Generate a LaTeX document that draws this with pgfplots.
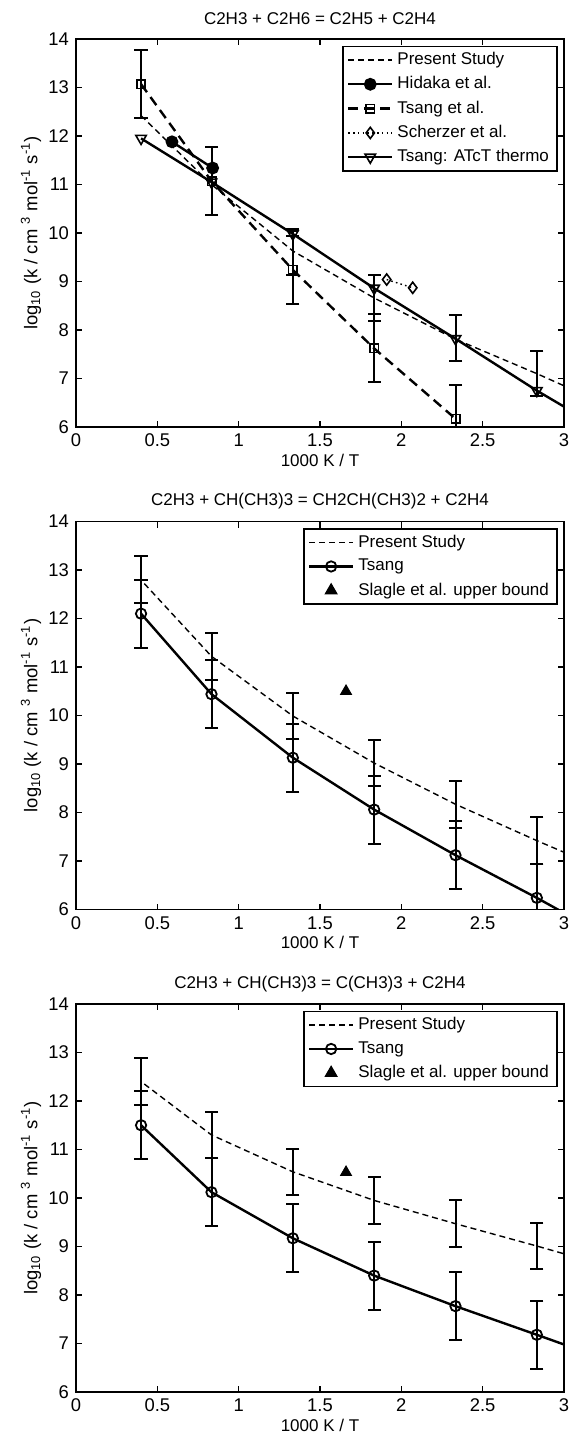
\documentclass[border=0pt]{standalone}
\usepackage{fontspec}
\setmainfont{Liberation Sans}
\usepackage{pgfplots}
\pgfplotsset{compat=1.18}
\usepackage{pgfplotstable}

% ---- Panel 1 data ----
\pgfplotstableread{
x y
0.40 12.42
0.833 11.00
1.333 9.63
1.833 8.66
2.333 7.81
2.833 7.10
3.00 6.85
}\ApS
\pgfplotstableread{
x y
0.59 11.88
0.84 11.34
}\AHid
\pgfplotstableread{
x y e
0.40 13.07 0.70
0.833 11.07 0.70
1.333 9.24 0.70
1.833 7.62 0.70
2.333 6.17 0.70
}\ATs
\pgfplotstableread{
x y
1.91 9.04
2.07 8.87
}\ASch
\pgfplotstableread{
x y
0.40 11.95
0.833 11.05
1.333 9.98
1.833 8.86
2.333 7.82
2.833 6.75
}\AAT
\pgfplotstableread{
x y
2.833 6.75
3.00 6.42
}\AATend
\pgfplotstableread{
x y e
1.333 9.61 0.47
1.833 8.66 0.47
2.333 7.84 0.47
2.833 7.10 0.47
}\ApsErr
% ---- Panel 2 data ----
\pgfplotstableread{
x y
0.42 12.72
0.833 11.22
1.333 9.99
1.833 9.02
2.333 8.17
2.833 7.42
3.00 7.18
}\BpS
\pgfplotstableread{
x y e
0.40 12.10 0.70
0.833 10.44 0.70
1.333 9.13 0.70
1.833 8.06 0.70
2.333 7.12 0.70
2.833 6.24 0.70
}\BTs
\pgfplotstableread{
x y
2.833 6.24
3.00 5.93
}\BTsend
\pgfplotstableread{
x y e
0.40 12.81 0.48
0.833 11.22 0.48
1.333 9.99 0.48
1.833 9.02 0.48
2.333 8.17 0.48
2.833 7.42 0.48
}\BpsErr
% ---- Panel 3 data ----
\pgfplotstableread{
x y
0.42 12.35
0.833 11.30
1.333 10.54
1.833 9.95
2.333 9.47
2.833 9.01
3.00 8.85
}\CpS
\pgfplotstableread{
x y e
0.40 11.50 0.70
0.833 10.12 0.70
1.333 9.17 0.70
1.833 8.40 0.70
2.333 7.77 0.70
2.833 7.18 0.70
}\CTs
\pgfplotstableread{
x y
2.833 7.18
3.00 6.98
}\CTsend
\pgfplotstableread{
x y e
0.40 12.40 0.48
0.833 11.30 0.48
1.333 10.54 0.48
1.833 9.95 0.48
2.333 9.47 0.48
2.833 9.01 0.48
}\CpsErr

\pgfplotsset{
  kin/.style={
    width=244pt, height=194pt, scale only axis,
    xmin=0, xmax=3, ymin=6, ymax=14,
    xtick={0,0.5,1,1.5,2,2.5,3}, ytick={6,7,...,14},
    /pgf/number format/assume math mode=true,
    tick label style={font=\fontsize{9.2}{10}\selectfont},
    major tick length=3pt,
    tick style={black, line width=0.6pt},
    axis line style={line width=0.8pt},
    xlabel={1000 K / T},
    ylabel={log\textsubscript{10} (k / cm \textsuperscript{3} mol\textsuperscript{-1} s\textsuperscript{-1})},
    xlabel style={font=\fontsize{8.5}{9}\selectfont, at={(axis description cs:0.5,-0.085)}, anchor=center},
    ylabel style={font=\fontsize{9.2}{10}\selectfont, at={(axis description cs:-0.0922,0.5)}, anchor=center},
    title style={font=\fontsize{8.5}{10}\selectfont, at={(axis description cs:0.5,1.021)}, anchor=center},
    legend cell align=left,
    legend style={at={(0.987,0.983)}, anchor=north east, draw=black, line width=0.7pt,
      font=\fontsize{8.5}{10}\selectfont, inner xsep=2pt, inner ysep=1pt, row sep=0.5pt},
    legend image code/.code={\draw[mark repeat=2,mark phase=2] plot coordinates {(0pt,0pt) (11pt,0pt) (22pt,0pt)};},
  },
  ebar/.style={black, forget plot, draw=none, mark=none,
    error bars/y dir=both, error bars/y explicit,
    error bars/error bar style={draw=black, solid, line width=1pt}},
  ecap/.style={black, forget plot, only marks, mark=-, mark size=3.3pt, mark options={solid, line width=1pt}},
  psline/.style={black, line width=0.7pt, dash pattern=on 3pt off 2pt, mark=none},
  tsline/.style={black, line width=1.2pt, mark=o, mark size=2.6pt, mark options={solid, line width=0.9pt}},
}
\newcommand{\errbars}[1]{%
  \addplot[ebar] table[y error=e] {#1};
  \addplot[ecap] table[y expr=\thisrow{y}+\thisrow{e}] {#1};
  \addplot[ecap] table[y expr=\thisrow{y}-\thisrow{e}] {#1};
}

\begin{document}
\begin{tikzpicture}
% ---------------- Panel 1 ----------------
\begin{axis}[kin, name=ax1, at={(0pt,0pt)}, anchor=north west,
  title={C2H3 + C2H6 = C2H5 + C2H4}]
\addplot[psline] table {\ApS};
\addlegendentry{Present Study}
\addplot[black, line width=1.2pt, mark=*, mark size=2.6pt] table {\AHid};
\addlegendentry{Hidaka et al.}
\addplot[black, line width=1.2pt, dash pattern=on 5pt off 3pt, mark=square, mark size=2.1pt, mark options={solid, line width=0.8pt}] table {\ATs};
\addlegendentry{Tsang et al.}
\addplot[black, line width=0.7pt, dash pattern=on 0.8pt off 1.6pt, mark=diamond, mark size=2.8pt, mark options={solid, line width=0.8pt}] table {\ASch};
\addlegendentry{Scherzer et al.}
\addplot[black, line width=1.2pt, mark=triangle, mark size=3pt, mark options={solid, rotate=180, line width=0.8pt}] table {\AAT};
\addlegendentry{Tsang: ATcT thermo}
\addplot[black, line width=1.2pt, forget plot] table {\AATend};
\errbars{\ATs}
\errbars{\ApsErr}
\end{axis}
% ---------------- Panel 2 ----------------
\begin{axis}[kin, name=ax2, at={(0pt,-241.25pt)}, anchor=north west,
  title={C2H3 + CH(CH3)3 = CH2CH(CH3)2 + C2H4}]
\addplot[psline] table {\BpS};
\addlegendentry{Present Study}
\addplot[tsline] table {\BTs};
\addlegendentry{Tsang}
\addplot[black, only marks, mark=triangle*, mark size=3.2pt] table {
x y
1.66 10.50
};
\addlegendentry{Slagle et al. upper bound}
\addplot[black, line width=1.2pt, forget plot] table {\BTsend};
\errbars{\BTs}
\errbars{\BpsErr}
\end{axis}
% ---------------- Panel 3 ----------------
\begin{axis}[kin, name=ax3, at={(0pt,-482.5pt)}, anchor=north west,
  title={C2H3 + CH(CH3)3 = C(CH3)3 + C2H4}]
\addplot[psline] table {\CpS};
\addlegendentry{Present Study}
\addplot[tsline] table {\CTs};
\addlegendentry{Tsang}
\addplot[black, only marks, mark=triangle*, mark size=3.2pt] table {
x y
1.66 10.53
};
\addlegendentry{Slagle et al. upper bound}
\addplot[black, line width=1.2pt, forget plot] table {\CTsend};
\errbars{\CTs}
\errbars{\CpsErr}
\end{axis}
\pgfresetboundingbox
\path[use as bounding box] (-38pt,19.5pt) rectangle (248pt,-698.5pt);
\end{tikzpicture}
\end{document}
